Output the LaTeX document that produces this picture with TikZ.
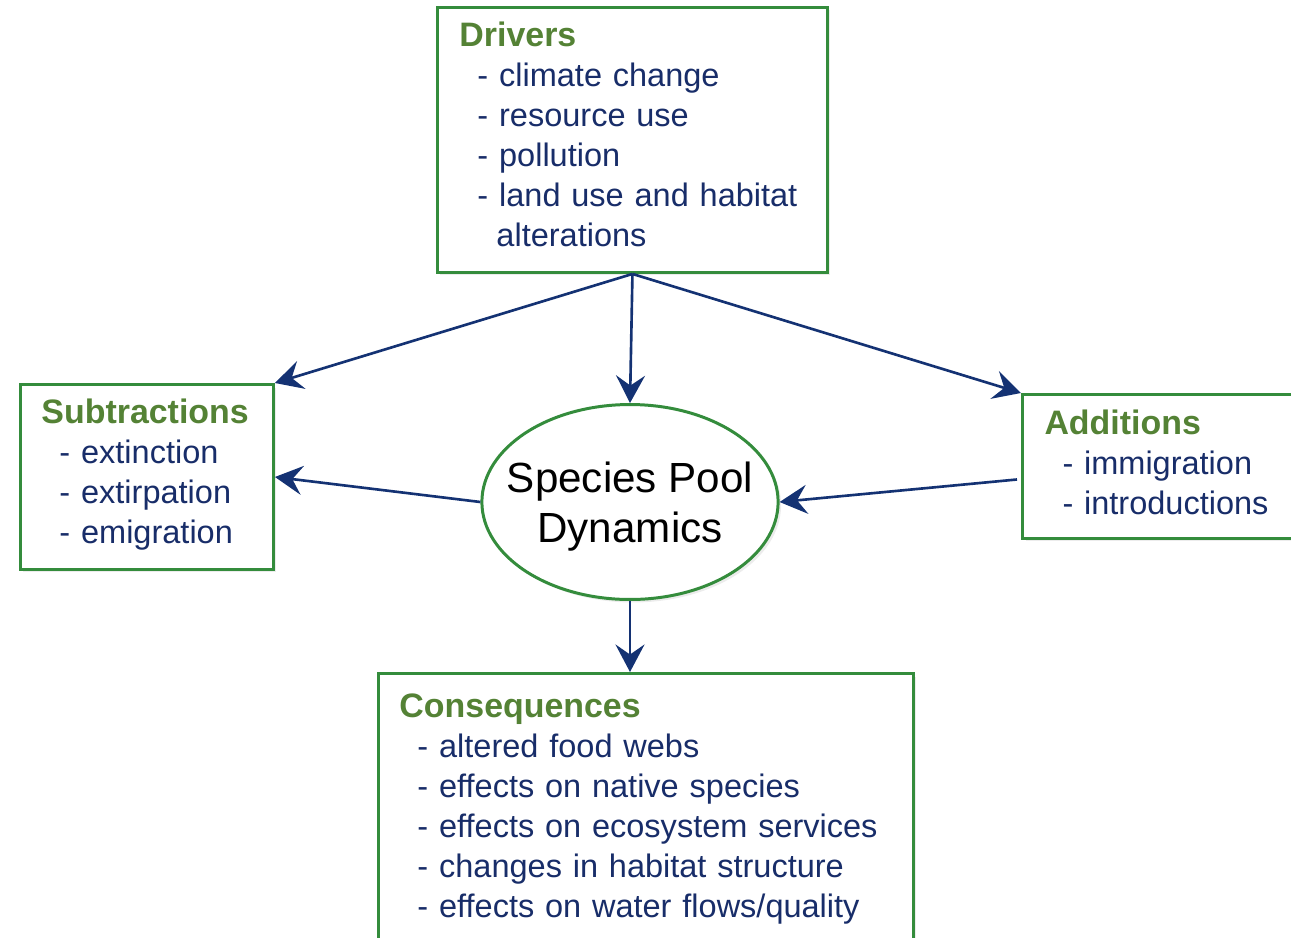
\documentclass[tikz,border=0pt]{standalone}
\usepackage{fontspec}
\setmainfont{Liberation Sans}
\usetikzlibrary{positioning, shapes.geometric, arrows.meta, shadows}
\definecolor{boxgreen}{RGB}{52,140,60}
\definecolor{titlegreen}{RGB}{84,130,53}
\definecolor{navytext}{RGB}{24,45,105}
\definecolor{arrowblue}{RGB}{20,50,115}
\newcommand{\boxtitle}[1]{{\fontsize{19.3}{22.8}\selectfont\bfseries\color{titlegreen}#1}}
\newcommand{\dashitem}{\hspace*{0.36cm}- }
\newcommand{\poolline}[1]{\makebox[4.19cm]{#1}}
\tikzstyle{infobox} = [rectangle, draw=boxgreen, line width=1.7pt, fill=white, align=left, anchor=north west, inner ysep=0pt, text=navytext, font=\fontsize{18.5}{22.8}\selectfont, drop shadow={opacity=0.15, shadow xshift=0.06cm, shadow yshift=-0.06cm}]
\tikzstyle{pool} = [ellipse, draw=boxgreen, line width=1.7pt, fill=white, minimum width=5.92cm, minimum height=3.9cm, inner sep=0pt, align=center, font=\fontsize{24}{28.45}\selectfont, drop shadow={opacity=0.15, shadow xshift=0.06cm, shadow yshift=-0.06cm}]
\tikzstyle{arrow} = [line width=1.5pt, draw=arrowblue, -{Stealth[length=0.55cm, width=0.58cm, inset=0.2cm]}]
\begin{document}
\begin{tikzpicture}[x=0.02cm, y=-0.02cm]
			\useasboundingbox (0,0) rectangle (1291,937);
			\node (drivers) [infobox, minimum height=5.3cm, inner xsep=0.44cm, text width=6.92cm] at (436,6) {\boxtitle{Drivers}\\ \dashitem climate change\\ \dashitem resource use\\ \dashitem pollution\\ \dashitem land use and habitat\\ \hspace*{0.74cm}alterations\strut};
			\node (subtr) [infobox, minimum height=3.7cm, inner xsep=0.42cm, text width=4.22cm] at (19,383) {\boxtitle{Subtractions}\\ \dashitem extinction\\ \dashitem extirpation\\ \dashitem emigration\strut};
			\node (addit) [infobox, minimum height=2.88cm, inner xsep=0.44cm, text width=4.72cm] at (1021,393) {\rule{0pt}{0.55cm}\boxtitle{Additions}\\ \dashitem immigration\\ \dashitem introductions\strut};
			\node (pool) [pool] at (630,502) {\rule{0pt}{23pt}\poolline{Species Pool}\\\poolline{Dynamics}};
			\node (conseq) [infobox, inner xsep=0.42cm, inner ysep=0.4cm, text width=9.86cm] at (377,672) {\boxtitle{Consequences}\\ \dashitem altered food webs\\ \dashitem effects on native species\\ \dashitem effects on ecosystem services\\ \dashitem changes in habitat structure\\ \dashitem effects on water flows/quality\strut};

			%arrows
			\draw [arrow] (drivers.south) -- (pool.north);
			\draw [arrow] (drivers.south) -- (subtr.north east);
			\draw [arrow] (drivers.south) -- (addit.north west);
			\draw [arrow] (pool.west) -- (subtr.east);
			\draw [arrow] ([xshift=-0.08cm, yshift=-0.26cm]addit.west) -- (pool.east);
			\draw [arrow] (pool.south) -- (pool.south |- conseq.north);

		\end{tikzpicture}
\end{document}
